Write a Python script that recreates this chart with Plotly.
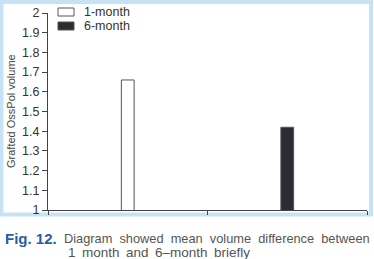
import plotly.graph_objects as go

categories = ["1-month", "6-month"]
values = [1.66, 1.42]
y_ticks = [1, 1.1, 1.2, 1.3, 1.4, 1.5, 1.6, 1.7, 1.8, 1.9, 2]
y_tick_labels = ["1", "1.1", "1.2", "1.3", "1.4", "1.5", "1.6", "1.7", "1.8", "1.9", "2"]
y_title = "Grafted OssPol volume"
caption_label = "Fig. 12."
caption_line1 = "Diagram showed mean volume difference between"
caption_line2 = "1 month and 6\u2013month briefly"

fills = ["#ffffff", "#2b2c31"]

W, H = 374, 259
L, R, T, B = 48, 7, 13, 49
pw, ph = W - L - R, H - T - B

def px(x):
    return (x - L) / pw

def py(y):
    return (H - B - y) / ph

fig = go.Figure()
for cat, val, col in zip(categories, values, fills):
    fig.add_trace(go.Bar(
        x=[cat], y=[val], name=cat, base=0,
        marker=dict(color=col, line=dict(color="#555555", width=1)),
        width=0.08, showlegend=False,
    ))

FONT = "Liberation Sans, Arial"
fig.update_layout(
    width=W, height=H,
    margin=dict(l=L, r=R, t=T, b=B),
    paper_bgcolor="white", plot_bgcolor="white",
    barmode="overlay",
    font=dict(family=FONT, size=12, color="#333333"),
)
fig.update_xaxes(
    type="category", range=[-0.5, 1.5], showgrid=False, showticklabels=False,
    showline=True, linecolor="#444444", linewidth=1,
    ticks="outside", tickson="boundaries", ticklen=4, tickcolor="#444444",
)
fig.update_yaxes(
    range=[1, 2], tickvals=y_ticks, ticktext=y_tick_labels, showgrid=False,
    showline=True, linecolor="#444444", linewidth=1, zeroline=False,
    ticks="outside", ticklen=5, tickcolor="#444444",
    tickfont=dict(family=FONT, size=12.5, color="#333333"),
)

# y-axis title
fig.add_annotation(text=y_title, xref="paper", yref="paper", x=px(11), y=py(111),
                   xanchor="center", yanchor="middle", textangle=-90, showarrow=False,
                   font=dict(family=FONT, size=11, color="#444444"))

# legend drawn in the top-left corner of the plot
legend_rows = [12, 26]
for cat, col, yc in zip(categories, fills, legend_rows):
    fig.add_shape(type="rect", xref="paper", yref="paper",
                  x0=px(58), x1=px(74), y0=py(yc + 4), y1=py(yc - 4),
                  fillcolor=col, line=dict(color="#555555", width=1))
    fig.add_annotation(text=cat, xref="paper", yref="paper", x=px(82), y=py(yc),
                       xanchor="left", yanchor="middle", showarrow=False,
                       font=dict(family=FONT, size=12.5, color="#333333"))

# light blue frame around the figure panel
fig.add_shape(type="rect", xref="paper", yref="paper",
              x0=px(1.5), x1=px(371), y0=py(214.5), y1=py(2),
              line=dict(color="#c6e3f5", width=4), layer="below")

fig.add_annotation(text="<b>" + caption_label + "</b>", xref="paper", yref="paper",
                   x=px(3), y=py(238), xanchor="left", yanchor="middle", showarrow=False,
                   font=dict(family=FONT, size=15, color="#1f5fa6"))
fig.add_annotation(text=caption_line1.replace(" ", " \u00a0"), xref="paper", yref="paper",
                   x=px(62), y=py(238), xanchor="left", yanchor="middle", showarrow=False,
                   font=dict(family=FONT, size=12.8, color="#555555"))
fig.add_annotation(text=caption_line2.replace(" ", " \u2009"), xref="paper", yref="paper",
                   x=px(66), y=py(252.5), xanchor="left", yanchor="middle", showarrow=False,
                   font=dict(family=FONT, size=13.5, color="#555555"))

fig.write_html("out.html")
